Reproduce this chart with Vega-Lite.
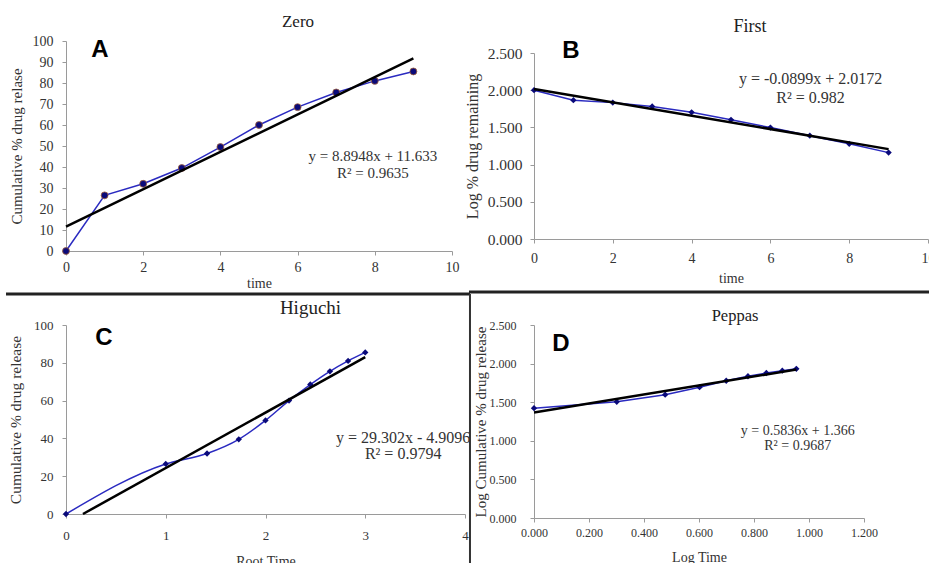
{
  "$schema": "https://vega.github.io/schema/vega-lite/v6.json",
  "background": "white",
  "padding": {"left": 4, "top": 13, "right": 0, "bottom": 0},
  "datasets": {
    "zero": [
      {"time": 0, "release": 0}, {"time": 1, "release": 26.5}, {"time": 2, "release": 32},
      {"time": 3, "release": 39.5}, {"time": 4, "release": 49.5}, {"time": 5, "release": 60},
      {"time": 6, "release": 68.5}, {"time": 7, "release": 75.5}, {"time": 8, "release": 81},
      {"time": 9, "release": 85.5}
    ],
    "zero_fit": [{"time": 0, "release": 11.6}, {"time": 9, "release": 91.7}],
    "first": [
      {"time": 0, "logrem": 2.0}, {"time": 1, "logrem": 1.866}, {"time": 2, "logrem": 1.833},
      {"time": 3, "logrem": 1.782}, {"time": 4, "logrem": 1.703}, {"time": 5, "logrem": 1.602},
      {"time": 6, "logrem": 1.498}, {"time": 7, "logrem": 1.389}, {"time": 8, "logrem": 1.279},
      {"time": 9, "logrem": 1.161}
    ],
    "first_fit": [{"time": 0, "logrem": 2.017}, {"time": 9, "logrem": 1.208}],
    "higuchi": [
      {"roottime": 0, "release": 0}, {"roottime": 1, "release": 26.5}, {"roottime": 1.414, "release": 32},
      {"roottime": 1.732, "release": 39.5}, {"roottime": 2, "release": 49.5}, {"roottime": 2.236, "release": 60},
      {"roottime": 2.449, "release": 68.5}, {"roottime": 2.646, "release": 75.5}, {"roottime": 2.828, "release": 81},
      {"roottime": 3, "release": 85.5}
    ],
    "higuchi_fit": [{"roottime": 0.17, "release": 0}, {"roottime": 3, "release": 83.0}],
    "peppas": [
      {"logtime": 0, "logrel": 1.423}, {"logtime": 0.301, "logrel": 1.505}, {"logtime": 0.477, "logrel": 1.597},
      {"logtime": 0.602, "logrel": 1.695}, {"logtime": 0.699, "logrel": 1.778}, {"logtime": 0.778, "logrel": 1.836},
      {"logtime": 0.845, "logrel": 1.878}, {"logtime": 0.903, "logrel": 1.908}, {"logtime": 0.954, "logrel": 1.932}
    ],
    "peppas_fit": [{"logtime": 0, "logrel": 1.366}, {"logtime": 0.954, "logrel": 1.923}]
  },
  "columns": 2,
  "bounds": "flush",
  "center": {"row": true, "column": false},
  "spacing": {"row": 74, "column": 69},
  "concat": [
    {
      "width": 386, "height": 210,
      "title": {"text": "Zero", "frame": "group", "anchor": "middle", "dx": 39, "offset": 3, "fontSize": 17},
      "layer": [
        {
          "data": {"name": "zero"},
          "mark": {"type": "line", "color": "#2a2ac0", "strokeWidth": 1.5},
          "encoding": {
            "x": {"field": "time", "type": "quantitative", "scale": {"domain": [0, 10], "nice": false},
                  "axis": {"title": "time", "values": [0, 2, 4, 6, 8, 10], "tickCount": 20, "format": "d", "labelFontSize": 14, "titleFontSize": 14, "labelPadding": 5, "titlePadding": 2}},
            "y": {"field": "release", "type": "quantitative", "scale": {"domain": [0, 100], "nice": false},
                  "axis": {"title": "Cumulative % drug relase", "values": [0, 10, 20, 30, 40, 50, 60, 70, 80, 90, 100], "tickCount": 20, "format": "d", "labelFontSize": 14, "titleFontSize": 15, "labelPadding": 9, "titlePadding": 8}}
          }
        },
        {
          "data": {"name": "zero"},
          "mark": {"type": "point", "shape": "circle", "filled": true, "color": "#0a0a7a", "size": 48, "stroke": "#a0603a", "strokeWidth": 0.8, "opacity": 1},
          "encoding": {"x": {"field": "time", "type": "quantitative"}, "y": {"field": "release", "type": "quantitative"}}
        },
        {
          "data": {"name": "zero_fit"},
          "mark": {"type": "line", "color": "#000000", "strokeWidth": 2.5},
          "encoding": {"x": {"field": "time", "type": "quantitative"}, "y": {"field": "release", "type": "quantitative"}}
        },
        {
          "data": {"values": [{}]},
          "mark": {"type": "text", "text": "A", "font": "Liberation Sans", "fontSize": 24, "fontWeight": "bold", "color": "#000000", "align": "center", "baseline": "middle"},
          "encoding": {"x": {"datum": 0.88}, "y": {"datum": 95.5}}
        },
        {
          "data": {"values": [{}]},
          "mark": {"type": "text", "text": ["y = 8.8948x + 11.633", "R² = 0.9635"], "font": "Liberation Serif", "fontSize": 15, "lineHeight": 17, "align": "center", "baseline": "top", "color": "#333333"},
          "encoding": {"x": {"datum": 7.95}, "y": {"datum": 48.8}}
        },
        {
          "data": {"values": [{}]},
          "mark": {"type": "rule", "color": "#222222", "strokeWidth": 3},
          "encoding": {"x": {"datum": -1.554}, "x2": {"datum": 10.466}, "y": {"datum": -20.48}}
        },
        {
          "data": {"values": [{}]},
          "mark": {"type": "rule", "color": "#333333", "strokeWidth": 2},
          "encoding": {"x": {"datum": 10.466}, "y": {"datum": -20.48}, "y2": {"datum": -149.5}}
        }
      ]
    },
    {
      "width": 394, "height": 186,
      "title": {"text": "First", "frame": "group", "anchor": "middle", "dx": 19, "offset": 3, "fontSize": 18},
      "layer": [
        {
          "data": {"name": "first"},
          "mark": {"type": "line", "color": "#2a2ac0", "strokeWidth": 1.5},
          "encoding": {
            "x": {"field": "time", "type": "quantitative", "scale": {"domain": [0, 10], "nice": false},
                  "axis": {"title": "time", "values": [0, 2, 4, 6, 8, 10], "tickCount": 20, "format": "d", "labelFontSize": 14, "titleFontSize": 14, "labelPadding": 8, "titlePadding": 6}},
            "y": {"field": "logrem", "type": "quantitative", "scale": {"domain": [0, 2.5], "nice": false},
                  "axis": {"title": "Log % drug remaining", "values": [0, 0.5, 1, 1.5, 2, 2.5], "tickCount": 20, "format": ".3f", "labelFontSize": 15.5, "titleFontSize": 16, "labelPadding": 8, "titlePadding": 7}}
          }
        },
        {
          "data": {"name": "first"},
          "mark": {"type": "point", "shape": "diamond", "filled": true, "color": "#0a0a7a", "size": 40, "opacity": 1},
          "encoding": {"x": {"field": "time", "type": "quantitative"}, "y": {"field": "logrem", "type": "quantitative"}}
        },
        {
          "data": {"name": "first_fit"},
          "mark": {"type": "line", "color": "#000000", "strokeWidth": 2.5},
          "encoding": {"x": {"field": "time", "type": "quantitative"}, "y": {"field": "logrem", "type": "quantitative"}}
        },
        {
          "data": {"values": [{}]},
          "mark": {"type": "text", "text": "B", "font": "Liberation Sans", "fontSize": 24, "fontWeight": "bold", "color": "#000000", "align": "center", "baseline": "middle"},
          "encoding": {"x": {"datum": 0.94}, "y": {"datum": 2.527}}
        },
        {
          "data": {"values": [{}]},
          "mark": {"type": "text", "text": ["y = -0.0899x + 2.0172", "R² = 0.982"], "font": "Liberation Serif", "fontSize": 16, "lineHeight": 19, "align": "center", "baseline": "top", "color": "#333333"},
          "encoding": {"x": {"datum": 7.02}, "y": {"datum": 2.258}}
        },
        {
          "data": {"values": [{}]},
          "mark": {"type": "rule", "color": "#222222", "strokeWidth": 3},
          "encoding": {"x": {"datum": -1.65}, "x2": {"datum": 10.03}, "y": {"datum": -0.712}}
        }
      ]
    },
    {
      "width": 399, "height": 189,
      "title": {"text": "Higuchi", "frame": "group", "anchor": "middle", "dx": 45, "offset": 1, "fontSize": 19},
      "layer": [
        {
          "data": {"name": "higuchi"},
          "mark": {"type": "line", "color": "#2a2ac0", "strokeWidth": 1.5, "interpolate": "monotone"},
          "encoding": {
            "x": {"field": "roottime", "type": "quantitative", "scale": {"domain": [0, 4], "nice": false},
                  "axis": {"title": "Root Time", "values": [0, 1, 2, 3, 4], "tickCount": 20, "format": "d", "labelFontSize": 13, "titleFontSize": 14, "labelPadding": 11, "titlePadding": 12}},
            "y": {"field": "release", "type": "quantitative", "scale": {"domain": [0, 100], "nice": false},
                  "axis": {"title": "Cumulative % drug release", "values": [0, 20, 40, 60, 80, 100], "tickCount": 20, "format": "d", "labelFontSize": 13, "titleFontSize": 15.5, "labelPadding": 9, "titlePadding": 10}}
          }
        },
        {
          "data": {"name": "higuchi"},
          "mark": {"type": "point", "shape": "diamond", "filled": true, "color": "#0a0a7a", "size": 40, "opacity": 1},
          "encoding": {"x": {"field": "roottime", "type": "quantitative"}, "y": {"field": "release", "type": "quantitative"}}
        },
        {
          "data": {"name": "higuchi_fit"},
          "mark": {"type": "line", "color": "#000000", "strokeWidth": 2.5},
          "encoding": {"x": {"field": "roottime", "type": "quantitative"}, "y": {"field": "release", "type": "quantitative"}}
        },
        {
          "data": {"values": [{}]},
          "mark": {"type": "text", "text": "C", "font": "Liberation Sans", "fontSize": 24, "fontWeight": "bold", "color": "#000000", "align": "center", "baseline": "middle"},
          "encoding": {"x": {"datum": 0.38}, "y": {"datum": 92.9}}
        },
        {
          "data": {"values": [{}]},
          "mark": {"type": "text", "text": ["y = 29.302x - 4.9096", "R² = 0.9794"], "font": "Liberation Serif", "fontSize": 16, "lineHeight": 16, "align": "center", "baseline": "top", "color": "#333333"},
          "encoding": {"x": {"datum": 3.38}, "y": {"datum": 44.6}}
        }
      ]
    },
    {
      "width": 330, "height": 193,
      "title": {"text": "Peppas", "frame": "group", "anchor": "middle", "dx": 36, "offset": -5, "fontSize": 16.5},
      "layer": [
        {
          "data": {"name": "peppas"},
          "mark": {"type": "line", "color": "#2a2ac0", "strokeWidth": 1.5},
          "encoding": {
            "x": {"field": "logtime", "type": "quantitative", "scale": {"domain": [0, 1.2], "nice": false},
                  "axis": {"title": "Log Time", "values": [0, 0.2, 0.4, 0.6, 0.8, 1, 1.2], "tickCount": 20, "format": ".3f", "labelFontSize": 12, "titleFontSize": 14, "labelPadding": 5, "titlePadding": 12}},
            "y": {"field": "logrel", "type": "quantitative", "scale": {"domain": [0, 2.5], "nice": false},
                  "axis": {"title": "Log Cumulative % drug release", "values": [0, 0.5, 1, 1.5, 2, 2.5], "tickCount": 20, "format": ".3f", "labelFontSize": 12, "titleFontSize": 15, "labelPadding": 14, "titlePadding": 1}}
          }
        },
        {
          "data": {"name": "peppas"},
          "mark": {"type": "point", "shape": "diamond", "filled": true, "color": "#0a0a7a", "size": 40, "opacity": 1},
          "encoding": {"x": {"field": "logtime", "type": "quantitative"}, "y": {"field": "logrel", "type": "quantitative"}}
        },
        {
          "data": {"name": "peppas_fit"},
          "mark": {"type": "line", "color": "#000000", "strokeWidth": 2.5},
          "encoding": {"x": {"field": "logtime", "type": "quantitative"}, "y": {"field": "logrel", "type": "quantitative"}}
        },
        {
          "data": {"values": [{}]},
          "mark": {"type": "text", "text": "D", "font": "Liberation Sans", "fontSize": 24, "fontWeight": "bold", "color": "#000000", "align": "center", "baseline": "middle"},
          "encoding": {"x": {"datum": 0.098}, "y": {"datum": 2.254}}
        },
        {
          "data": {"values": [{}]},
          "mark": {"type": "text", "text": ["y = 0.5836x + 1.366", "R² = 0.9687"], "font": "Liberation Serif", "fontSize": 14, "lineHeight": 15, "align": "center", "baseline": "top", "color": "#333333"},
          "encoding": {"x": {"datum": 0.959}, "y": {"datum": 1.218}}
        }
      ]
    }
  ],
  "config": {
    "font": "Liberation Serif",
    "view": {"stroke": null},
    "title": {"font": "Liberation Serif", "fontWeight": "normal", "color": "#222222"},
    "axis": {
      "grid": false,
      "domainColor": "#9a9a9a",
      "tickColor": "#9a9a9a",
      "tickSize": 4,
      "labelFont": "Liberation Serif",
      "titleFont": "Liberation Serif",
      "titleFontWeight": "normal",
      "labelColor": "#333333",
      "titleColor": "#333333",
      "labelFlush": false,
      "labelOverlap": false
    }
  }
}
